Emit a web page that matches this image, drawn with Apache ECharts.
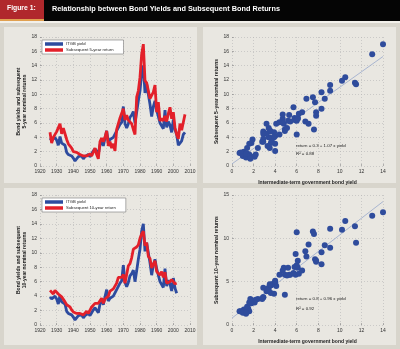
<!DOCTYPE html>
<html><head><meta charset="utf-8">
<script src="https://cdn.jsdelivr.net/npm/echarts@6/dist/echarts.min.js"></script>
<style>html,body{margin:0;padding:0;background:#d8d5cc}#c{width:400px;height:349px}</style>
</head><body><div id="c"></div><script>
// ---- data ----
const firstYear = 1926;
const yields = [3.9,3.6,3.4,4.0,3.6,2.9,4.1,3.2,3.4,2.9,
  1.9,1.6,1.8,1.4,1.1,0.7,0.8,1.3,1.3,1.4,
  1.0,1.3,1.5,1.6,1.3,1.7,2.1,2.4,2.2,1.7,
  2.9,3.6,2.8,3.9,4.9,3.3,3.7,3.5,4.0,4.0,
  4.9,4.8,5.8,6.1,8.3,5.9,5.3,5.9,6.8,7.1,
  7.6,6.0,7.5,9.1,10.5,13.0,14.0,10.2,11.4,11.5,
  8.6,6.9,8.3,9.1,7.8,7.7,6.0,6.1,5.2,7.8,
  5.4,6.2,5.7,4.7,6.5,5.1,4.4,2.9,3.2,3.5,
  4.4,4.7];
const ret5 = [4.7,3.2,4.0,4.2,4.8,4.8,5.9,4.5,5.3,4.5,
  3.7,3.1,3.2,2.5,2.0,1.8,1.9,1.7,1.6,1.7,
  1.4,1.2,1.4,1.6,1.7,1.4,1.3,2.5,1.6,1.0,
  3.4,3.9,3.4,4.0,4.9,2.8,3.4,2.5,3.1,2.1,
  5.1,5.9,6.7,6.7,8.0,6.4,7.1,6.4,6.2,5.9,
  5.1,4.4,9.6,10.5,12.4,15.6,17.0,11.9,11.6,11.4,
  9.4,9.4,10.3,11.3,7.5,8.9,6.3,6.6,6.3,7.0,
  6.2,7.3,8.2,6.6,7.5,5.3,4.4,3.8,5.9,5.0,
  6.1,7.2];
const ret10 = [4.8,4.6,4.3,4.8,4.6,4.3,4.5,3.9,4.0,3.2,
  2.8,2.6,2.5,2.1,1.8,1.6,1.6,1.6,1.6,1.7,
  1.4,1.3,1.9,1.6,1.4,2.5,2.6,3.0,2.9,3.0,
  3.2,3.7,3.0,3.6,3.5,4.0,4.7,4.7,5.0,5.1,
  5.8,6.6,6.7,6.6,7.0,5.8,5.8,8.2,8.5,9.3,
  10.5,10.7,10.8,11.1,12.0,12.6,13.0,11.0,11.4,9.5,
  9.2,7.9,8.4,8.9,7.4,7.6,6.9,7.4,6.6,7.3,
  5.8,5.9,6.0,6.3,6.3,5.7,5.8];
const fit5 = {intercept: 0.3, slope: 1.07, r2: 0.88};
const fit10 = {intercept: 0.8, slope: 0.96, r2: 0.92};
const fitRange = [0, 14];

// ---- build ----
const yr = i => firstYear + i;
const blueC = '#2d4b9f', redC = '#e3202a', dotC = '#2f4c9c';
const tickFont = {fontSize: 5, color: '#333', fontFamily: 'Liberation Sans', formatter: v => String(v)};
const nameFont = {fontSize: 5, fontWeight: 'bold', color: '#222', fontFamily: 'Liberation Sans', lineHeight: 6};
const split = {show: true, lineStyle: {color: '#b5b5b5', type: [1, 2], width: 0.6}};
function gridOf(l, t, w, h) {
  return {left: l, top: t, width: w, height: h, show: true, backgroundColor: '#fff', borderColor: '#8a8a8a', borderWidth: 0.8};
}
function xAx(gi, min, max, interval, name) {
  return {type: 'value', gridIndex: gi, min, max, interval, name, nameLocation: 'middle', nameGap: 14, nameTextStyle: nameFont,
    axisLine: {show: false}, axisTick: {inside: true, length: 2, lineStyle: {color: '#888', width: 0.6}},
    axisLabel: Object.assign({margin: 3}, tickFont), splitLine: split};
}
function yAx(gi, min, max, interval, name, gap) {
  return {type: 'value', gridIndex: gi, min, max, interval, name, nameLocation: 'middle', nameGap: gap, nameTextStyle: nameFont,
    axisLine: {show: false}, axisTick: {inside: true, length: 2, lineStyle: {color: '#888', width: 0.6}},
    axisLabel: Object.assign({margin: 3}, tickFont), splitLine: split};
}
function lineS(name, gi, data, color) {
  return {type: 'line', name, xAxisIndex: gi, yAxisIndex: gi, data, symbol: 'none', lineStyle: {color, width: 2.8}, itemStyle: {color}, z: 3};
}
function fitLine(gi, fit) {
  return {type: 'line', name: 'fit' + gi, xAxisIndex: gi, yAxisIndex: gi, symbol: 'none', silent: true,
    data: fitRange.map(x => [x, fit.intercept + fit.slope * x]), lineStyle: {color: '#98a8cc', width: 0.8}, z: 2};
}
function legendAt(left, top, names) {
  return {left, top, orient: 'vertical', data: names, icon: 'rect', itemWidth: 18, itemHeight: 3.5, itemGap: 2,
    padding: [2, 10, 2, 3], borderColor: '#777', borderWidth: 0.6, backgroundColor: '#fff',
    textStyle: {fontSize: 4.2, color: '#222', fontFamily: 'Liberation Sans', padding: [0, 0, 0, -2]}};
}
const txt = (x, y, s, extra) => ({type: 'text', left: x, top: y, z: 10,
  style: Object.assign({text: s, fontSize: 4.4, fill: '#222', fontFamily: 'Liberation Sans'}, extra || {})});

const option = {
  backgroundColor: '#d8d5cc',
  animation: false,
  graphic: [
    {type: 'rect', shape: {x: 4, y: 27, width: 193, height: 156}, style: {fill: '#e9e7e1'}, z: 0},
    {type: 'rect', shape: {x: 203, y: 27, width: 193, height: 156}, style: {fill: '#e9e7e1'}, z: 0},
    {type: 'rect', shape: {x: 4, y: 188, width: 193, height: 157}, style: {fill: '#e9e7e1'}, z: 0},
    {type: 'rect', shape: {x: 203, y: 188, width: 193, height: 157}, style: {fill: '#e9e7e1'}, z: 0},
    {type: 'rect', shape: {x: 0, y: 0, width: 400, height: 21}, style: {fill: '#050505'}, z: 1},
    {type: 'rect', shape: {x: 0, y: 21, width: 400, height: 2}, style: {fill: '#f2f0ea'}, z: 1},
    {type: 'rect', shape: {x: 0, y: 0, width: 44, height: 19}, style: {fill: '#b0282c'}, z: 2},
    {type: 'rect', shape: {x: 0, y: 19, width: 44, height: 2}, style: {fill: '#e0a050'}, z: 2},
    txt(7, 5, 'Figure 1:', {fontSize: 6.8, fontWeight: 'bold', fill: '#fff'}),
    txt(52, 5, 'Relationship between Bond Yields and Subsequent Bond Returns', {fontSize: 7.3, fontWeight: 'bold', fill: '#fff'}),
    txt(296, 144, 'return = ' + fit5.intercept + ' + ' + fit5.slope + ' x yield'),
    txt(296, 152, 'R² = ' + fit5.r2),
    txt(296, 297, 'return = ' + fit10.intercept + ' + ' + fit10.slope + ' x yield'),
    txt(296, 307, 'R² = ' + fit10.r2)
  ],
  legend: [
    legendAt(42, 40, ['ITGB yield', 'Subsequent 5-year return']),
    legendAt(42, 198, [{name: 'ITGB yield'}, 'Subsequent 10-year return'])
  ],
  grid: [gridOf(40, 37, 150, 129), gridOf(232, 37, 151, 129), gridOf(40, 195, 150, 130), gridOf(232, 195, 151, 130)],
  xAxis: [
    xAx(0, 1920, 2010, 10, ''),
    xAx(1, 0, 14, 2, 'Intermediate-term government bond yield'),
    xAx(2, 1920, 2010, 10, ''),
    xAx(3, 0, 14, 2, 'Intermediate-term government bond yield')
  ],
  yAxis: [
    yAx(0, 0, 18, 2, 'Bond yields and subsequent\n5-year nominal returns', 12),
    yAx(1, 0, 18, 2, 'Subsequent 5–year nominal returns', 10),
    yAx(2, 0, 18, 2, 'Bond yields and subsequent\n10-year nominal returns', 12),
    yAx(3, 0, 15, 5, 'Subsequent 10–year nominal returns', 10)
  ],
  series: [
    lineS('ITGB yield', 0, yields.map((v, i) => [yr(i), v]), blueC),
    lineS('Subsequent 5-year return', 0, ret5.map((v, i) => [yr(i), v]), redC),
    lineS('ITGB yield', 2, yields.slice(0, ret10.length).map((v, i) => [yr(i), v]), blueC),
    lineS('Subsequent 10-year return', 2, ret10.map((v, i) => [yr(i), v]), redC),
    fitLine(1, fit5),
    fitLine(3, fit10),
    {type: 'scatter', name: 'pts5', xAxisIndex: 1, yAxisIndex: 1, symbolSize: 6, itemStyle: {color: dotC, opacity: 1},
      data: ret5.map((v, i) => [yields[i], v]), z: 3},
    {type: 'scatter', name: 'pts10', xAxisIndex: 3, yAxisIndex: 3, symbolSize: 6, itemStyle: {color: dotC, opacity: 1},
      data: ret10.map((v, i) => [yields[i], v]), z: 3}
  ]
};
const chart = echarts.init(document.getElementById('c'), null, {renderer: 'canvas'});
chart.setOption(option);
</script></body></html>
